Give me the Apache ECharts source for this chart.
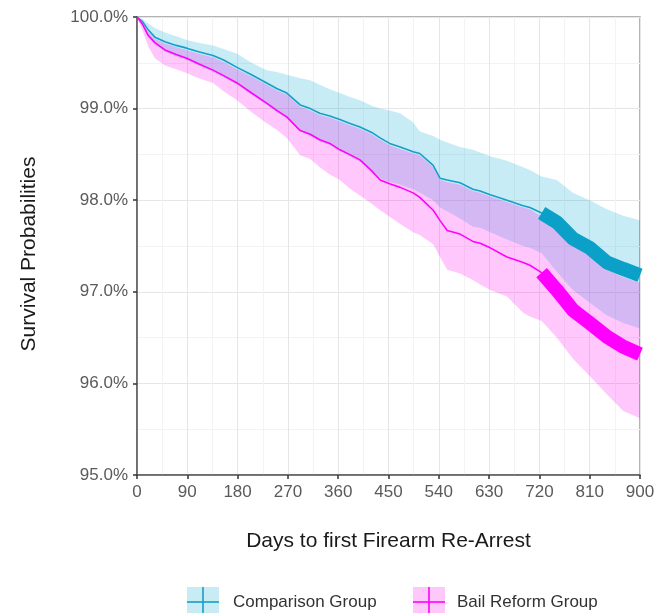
<!DOCTYPE html>
<html>
<head>
<meta charset="utf-8">
<script src="https://cdn.jsdelivr.net/npm/echarts@6/dist/echarts.min.js"></script>
<style>
  html, body { margin: 0; padding: 0; background: #fff; }
  #chart { width: 667px; height: 613px; }
</style>
</head>
<body>
<div id="chart"></div>
<script>
// days since release (points along the KM curves)
const days = [0, 10, 20, 32, 50, 70, 89, 110, 136, 155, 179, 205, 232, 250, 268, 292, 310, 327, 345, 363,
  380, 399, 420, 435, 452, 471, 494, 506, 530, 542, 555, 578, 601, 614, 632, 662, 691, 703, 724,
  751, 780, 810, 841, 870, 900];

// comparison group survival (%) and 95% CI
const compSurv = [100, 99.95, 99.86, 99.78, 99.73, 99.69, 99.66, 99.62, 99.58, 99.53, 99.45, 99.37, 99.28, 99.22, 99.17, 99.04, 99.00, 98.95, 98.92, 98.88,
  98.84, 98.80, 98.74, 98.68, 98.62, 98.58, 98.53, 98.51, 98.38, 98.24, 98.22, 98.19, 98.12, 98.10, 98.06, 98.00, 97.94, 97.92, 97.86,
  97.76, 97.58, 97.48, 97.32, 97.25, 97.18];
const compHigh = [100, 99.98, 99.93, 99.88, 99.83, 99.79, 99.75, 99.72, 99.69, 99.65, 99.60, 99.50, 99.42, 99.40, 99.37, 99.33, 99.31, 99.26, 99.21, 99.17,
  99.13, 99.09, 99.03, 99.00, 98.98, 98.95, 98.85, 98.75, 98.70, 98.66, 98.63, 98.58, 98.55, 98.52, 98.48, 98.43, 98.36, 98.33, 98.26,
  98.22, 98.08, 98.00, 97.90, 97.83, 97.78];
const compLow = [100, 99.90, 99.78, 99.70, 99.62, 99.57, 99.53, 99.47, 99.40, 99.34, 99.26, 99.15, 99.04, 98.96, 98.89, 98.76, 98.70, 98.64, 98.60, 98.54,
  98.48, 98.42, 98.32, 98.24, 98.20, 98.17, 98.12, 98.08, 98.00, 97.92, 97.88, 97.80, 97.71, 97.70, 97.65, 97.57, 97.50, 97.48, 97.42,
  97.22, 97.02, 96.88, 96.74, 96.66, 96.60];

// bail reform group survival (%) and 95% CI
const bailSurv = [100, 99.92, 99.80, 99.72, 99.64, 99.59, 99.55, 99.49, 99.42, 99.36, 99.28, 99.17, 99.06, 98.98, 98.91, 98.76, 98.72, 98.66, 98.62, 98.55,
  98.50, 98.44, 98.32, 98.22, 98.18, 98.14, 98.08, 98.03, 97.89, 97.78, 97.67, 97.63, 97.55, 97.53, 97.48, 97.38, 97.32, 97.29, 97.21,
  97.02, 96.80, 96.66, 96.51, 96.40, 96.32];
const bailHigh = [100, 99.93, 99.84, 99.76, 99.71, 99.67, 99.64, 99.60, 99.56, 99.51, 99.43, 99.35, 99.26, 99.20, 99.15, 99.02, 98.98, 98.93, 98.90, 98.86,
  98.82, 98.78, 98.72, 98.66, 98.60, 98.56, 98.51, 98.49, 98.36, 98.22, 98.20, 98.17, 98.10, 98.08, 98.04, 97.98, 97.92, 97.90, 97.82,
  97.68, 97.50, 97.40, 97.24, 97.16, 97.10];
const bailLow = [100, 99.85, 99.68, 99.55, 99.47, 99.43, 99.39, 99.33, 99.28, 99.19, 99.09, 98.96, 98.84, 98.77, 98.68, 98.49, 98.45, 98.36, 98.28, 98.22,
  98.13, 98.05, 97.96, 97.89, 97.82, 97.74, 97.65, 97.62, 97.52, 97.38, 97.24, 97.20, 97.13, 97.08, 97.02, 96.95, 96.77, 96.73, 96.68,
  96.50, 96.27, 96.08, 95.88, 95.70, 95.62];

// censoring marks get dense after this day
const censorStart = 724;

const groups = ['Comparison Group', 'Bail Reform Group'];

const blue = '#14a0c8';
const magenta = '#ff00ff';
const fontFamily = 'Liberation Sans, Arial, sans-serif';

const pairs = (arr) => days.map((d, i) => [d, arr[i]]);
const censored = (arr) => pairs(arr).filter((p) => p[0] >= censorStart);

/** CI ribbon: one polygon, upper edge forward then lower edge back */
const ribbon = (hi, lo, fill) => ({
  type: 'custom',
  silent: true,
  clip: true,
  data: pairs(hi),
  encode: { x: 0, y: 1 },
  renderItem: (params, api) => {
    if (params.dataIndex !== 0) return null;
    const pts = [];
    days.forEach((d, i) => pts.push(api.coord([d, hi[i]])));
    for (let i = days.length - 1; i >= 0; i--) pts.push(api.coord([days[i], lo[i]]));
    return { type: 'polygon', shape: { points: pts }, style: { fill: fill } };
  },
});

const curve = (name, arr, color, width) => ({
  name: name,
  type: 'line',
  symbol: 'none',
  silent: true,
  clip: true,
  data: arr,
  lineStyle: { color: color, width: width },
});

const chart = echarts.init(document.getElementById('chart'), null, { renderer: 'canvas' });

const option = {
  animation: false,
  textStyle: { fontFamily: fontFamily },
  grid: {
    left: 137,
    right: 27,
    top: 17,
    bottom: 138,
    show: true,
    borderColor: '#9a9a9a',
    borderWidth: 1.5,
    outerBoundsMode: 'none',
  },
  xAxis: {
    type: 'value',
    min: 0,
    max: 900,
    interval: 90,
    name: 'Days to first Firearm Re-Arrest',
    nameLocation: 'middle',
    nameGap: 56,
    nameTextStyle: { fontSize: 21, color: '#1a1a1a' },
    axisLine: { show: true, onZero: false, lineStyle: { color: '#555', width: 1.5 } },
    axisTick: { show: true, length: 4, lineStyle: { color: '#333', width: 1.5 } },
    axisLabel: { fontSize: 17, color: '#5a5a5a', margin: 9 },
    splitLine: { show: true, lineStyle: { color: '#e6e6e6', width: 1 } },
    minorTick: { show: false, splitNumber: 2 },
    minorSplitLine: { show: true, lineStyle: { color: '#f3f3f3', width: 1 } },
  },
  yAxis: {
    type: 'value',
    min: 95,
    max: 100,
    interval: 1,
    name: 'Survival Probabilities',
    nameLocation: 'middle',
    nameGap: 97,
    nameTextStyle: { fontSize: 21, color: '#1a1a1a', padding: [0, 16, 0, 0] },
    axisLine: { show: true, lineStyle: { color: '#555', width: 1.5 } },
    axisTick: { show: true, length: 4, lineStyle: { color: '#333', width: 1.5 } },
    axisLabel: {
      fontSize: 17,
      color: '#5a5a5a',
      margin: 9,
      formatter: (v) => v.toFixed(1) + '%',
    },
    splitLine: { show: true, lineStyle: { color: '#e6e6e6', width: 1 } },
    minorTick: { show: false, splitNumber: 2 },
    minorSplitLine: { show: true, lineStyle: { color: '#f3f3f3', width: 1 } },
  },
  series: [
    ribbon(compHigh, compLow, 'rgba(0, 170, 210, 0.22)'),
    ribbon(bailHigh, bailLow, 'rgba(255, 0, 240, 0.22)'),
    curve(groups[0], pairs(compSurv), blue, 1.6),
    curve(groups[1], pairs(bailSurv), magenta, 1.6),
    // dense censor marks after ~2 years
    curve('', censored(compSurv), '#0aa0c8', 14),
    curve('', censored(bailSurv), magenta, 14),
  ],
  // legend keys (filled square with a cross) drawn by hand
  graphic: [
    { type: 'rect', shape: { x: 187, y: 587, width: 32, height: 30 }, style: { fill: '#c8ebf4' } },
    { type: 'line', shape: { x1: 187, y1: 602, x2: 219, y2: 602 }, style: { stroke: blue, lineWidth: 1.6 } },
    { type: 'line', shape: { x1: 203, y1: 587, x2: 203, y2: 613 }, style: { stroke: blue, lineWidth: 1.6 } },
    {
      type: 'text', x: 233, y: 602,
      style: { text: groups[0], fontSize: 17, fill: '#333', verticalAlign: 'middle', fontFamily: fontFamily },
    },
    { type: 'rect', shape: { x: 413, y: 587, width: 32, height: 30 }, style: { fill: '#ffc8fb' } },
    { type: 'line', shape: { x1: 413, y1: 602, x2: 445, y2: 602 }, style: { stroke: magenta, lineWidth: 1.6 } },
    { type: 'line', shape: { x1: 429, y1: 587, x2: 429, y2: 613 }, style: { stroke: magenta, lineWidth: 1.6 } },
    {
      type: 'text', x: 457, y: 602,
      style: { text: groups[1], fontSize: 17, fill: '#333', verticalAlign: 'middle', fontFamily: fontFamily },
    },
  ],
};

chart.setOption(option);
</script>
</body>
</html>
